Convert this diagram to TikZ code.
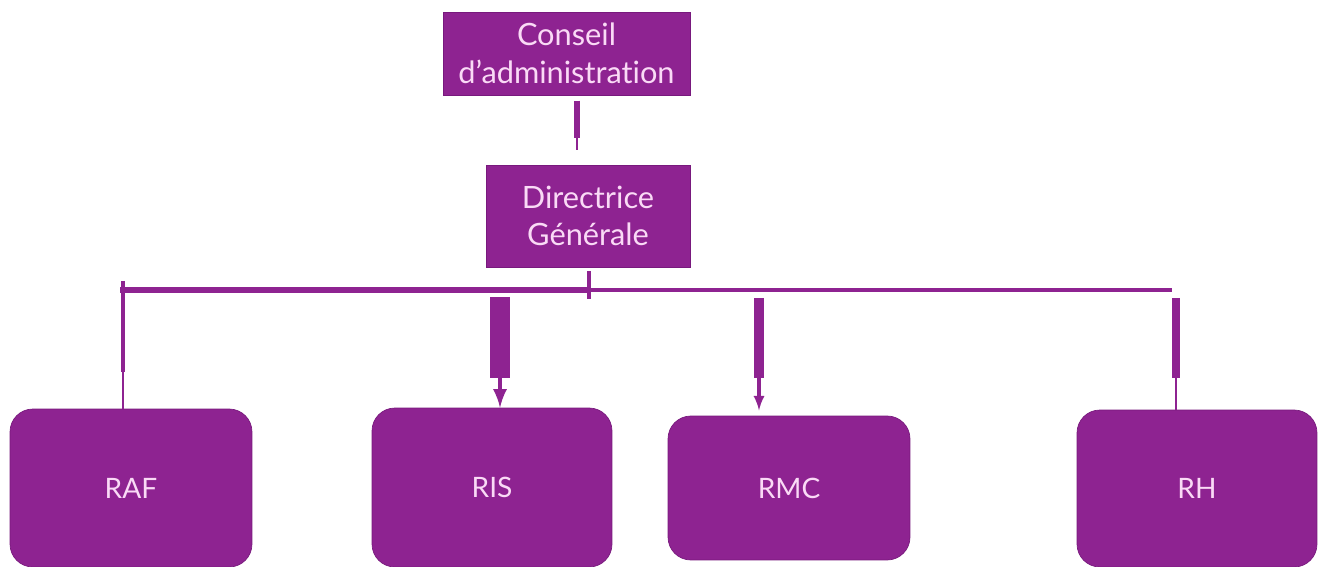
\documentclass[tikz,border=0pt]{standalone}
\usepackage{fontspec}
\setmainfont[Ligatures=NoCommon]{Lato}
\definecolor{orgpurple}{RGB}{142,35,145}
\definecolor{orgedge}{RGB}{120,25,125}
\definecolor{orgpink}{RGB}{250,218,246}
\tikzset{
	orgbox/.style={fill=orgpurple, draw=orgedge, text=orgpink, align=center, inner sep=0pt, font=\fontsize{17.5}{21.5}\selectfont},
	unitbox/.style={orgbox, rounded corners=13pt, font=\fontsize{16}{20}\selectfont},
	thickbar/.style={draw=orgpurple, line width=#1},
	thinline/.style={draw=orgpurple, line width=1pt},
}
\begin{document}
\begin{tikzpicture}[x=0.02cm, y=-0.02cm]
			\useasboundingbox (0,0) rectangle (1328,567);
			\node[orgbox, minimum width=4.94cm, minimum height=1.66cm] (cad) at (566.5, 53.5) {Conseil\\d'administration};
			\node[orgbox, minimum width=4.08cm, minimum height=2.04cm] (dg) at (588, 216) {Directrice\\Générale};
			\node[unitbox, minimum width=4.84cm, minimum height=3.16cm] (raf) at (131, 488) {RAF};
			\node[unitbox, minimum width=4.80cm, minimum height=3.18cm] (ris) at (492, 487.5) {RIS};
			\node[unitbox, minimum width=4.84cm, minimum height=2.88cm] (rmc) at (789, 488) {RMC};
			\node[unitbox, minimum width=4.80cm, minimum height=3.14cm] (rh) at (1197, 488.5) {RH};
			\coordinate (cadstub) at (577, 138);
			\coordinate (busL) at (120, 290);
			\coordinate (busM) at (589, 290);
			\coordinate (busR) at (1172, 290);
			\coordinate (rafstub) at (123, 372);
			\coordinate (risstub) at (500, 378);
			\coordinate (rmcstub) at (759, 378);
			\coordinate (rhstub) at (1176, 378);
			% conseil -> directrice
			\draw[thickbar=3.4pt] ([yshift=-3pt]cad.south -| cadstub) -- (cadstub);
			\draw[thinline] (cadstub) -- ++(0,12);
			% bus
			\draw[thickbar=2pt] ([yshift=-2pt]dg.south -| busM) -- ++(0,28);
			\draw[thickbar=3.4pt] (busL) -- (busM);
			\draw[thickbar=2.3pt] (busM) -- (busR);
			% branches
			\draw[thickbar=2.8pt] (rafstub |- 0,281) -- (rafstub);
			\draw[thinline] (rafstub) -- (rafstub |- raf.north);
			\draw[thickbar=11pt] (risstub |- 0,297) -- (risstub);
			\draw[thickbar=2.6pt, -latex] (risstub) -- (risstub |- ris.north);
			\draw[thickbar=6pt] (rmcstub |- 0,298) -- (rmcstub);
			\draw[thickbar=1.8pt, -latex] (rmcstub) -- ([yshift=3pt]rmcstub |- rmc.north);
			\draw[thickbar=4.5pt] (rhstub |- 0,298) -- (rhstub);
			\draw[thinline] (rhstub) -- (rhstub |- rh.north);
		\end{tikzpicture}
\end{document}
